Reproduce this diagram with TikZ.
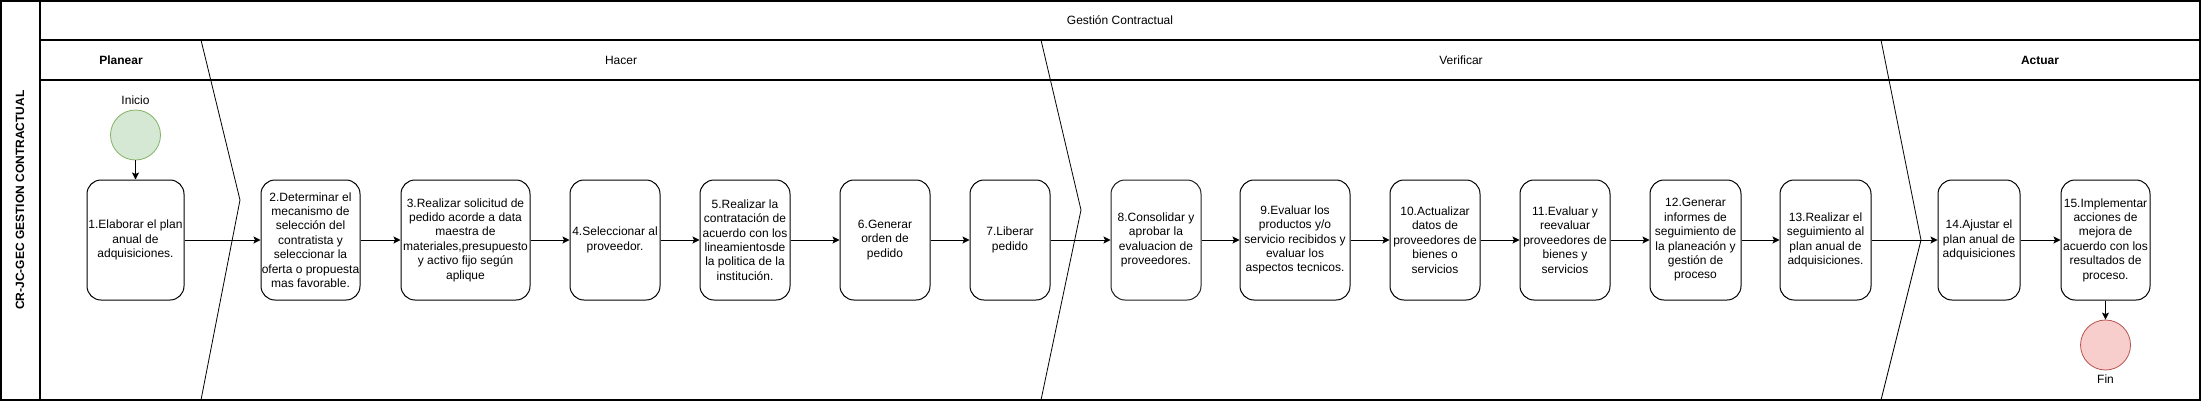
\documentclass[tikz,border=0pt]{standalone}
\usepackage{fontspec}
\setmainfont{Liberation Sans}
\usetikzlibrary{arrows.meta}
\definecolor{inifill}{HTML}{D5E8D4}
\definecolor{inidraw}{HTML}{82B366}
\definecolor{finfill}{HTML}{F8CECC}
\definecolor{findraw}{HTML}{B85450}
\begin{document}
\begin{tikzpicture}[x=1pt,y=-1pt,
  every node/.style={font=\fontsize{12}{14.4}\selectfont, inner sep=0pt},
  task/.style={draw, line width=1pt, rounded corners=14pt, align=center, minimum height=120pt},
  lane/.style={line width=1.3pt},
  divider/.style={line width=0.8pt},
  flow/.style={line width=1pt, -{Stealth[length=7pt,width=7pt,inset=1.5pt]}},
  phase/.style={font=\fontsize{12}{14.4}\selectfont},
]
\useasboundingbox (0,0) rectangle (2202,402);
% pool frame
\draw[lane] (1,1) rectangle (2200,400);
\draw[lane] (40,1) -- (40,400);
\draw[lane] (40,40) -- (2200,40);
\draw[lane] (40,80) -- (2200,80);
% phase dividers
\draw[divider] (201,40) -- (240,200) -- (201,400);
\draw[divider] (1041,40) -- (1081,210) -- (1041,400);
\draw[divider] (1881,40) -- (1921,240) -- (1881,400);
% headers
\node[rotate=90, font=\bfseries\fontsize{12}{14.4}\selectfont] (pool) at (20,200) {CR-JC-GEC GESTION CONTRACTUAL};
\node (title) at (1120,20) {Gestión Contractual};
\node[phase, font=\bfseries\fontsize{12}{14.4}\selectfont] (planear) at (121,60) {Planear};
\node[phase] (hacer) at (621,60) {Hacer};
\node[phase] (verificar) at (1461,60) {Verificar};
\node[phase, font=\bfseries\fontsize{12}{14.4}\selectfont] (actuar) at (2040,60) {Actuar};
% start / end
\node[circle, draw=inidraw, fill=inifill, line width=0.8pt, minimum size=50pt] (ini) at (135.5,135) {};
\node (inilbl) at (135.5,100) {Inicio};
\node[circle, draw=findraw, fill=finfill, line width=0.8pt, minimum size=50pt] (fin) at (2105.5,345) {};
\node (finlbl) at (2105.5,379) {Fin};
% tasks
\node[task, minimum width=97pt] (b1) at (135.5,240) {1.Elaborar el plan\\anual de\\adquisiciones.};
\node[task, minimum width=99pt] (b2) at (310.5,240) {2.Determinar el\\mecanismo de\\selección del\\contratista y\\seleccionar la\\oferta o propuesta\\mas favorable.};
\node[task, minimum width=129pt] (b3) at (465.5,240) {3.Realizar solicitud de\\pedido acorde a data\\maestra de\\materiales,presupuesto\\y activo fijo según\\aplique};
\node[task, minimum width=90pt] (b4) at (615,240) {4.Seleccionar al\\proveedor.};
\node[task, minimum width=90pt] (b5) at (745,240) {5.Realizar la\\contratación de\\acuerdo con los\\lineamientosde\\la politica de la\\institución.};
\node[task, minimum width=90pt] (b6) at (885,240) {6.Generar\\orden de\\pedido};
\node[task, minimum width=80pt] (b7) at (1010,240) {7.Liberar\\pedido};
\node[task, minimum width=90pt, draw=black!88] (b8) at (1156,240) {8.Consolidar y\\aprobar la\\evaluacion de\\proveedores.};
\node[task, minimum width=110pt] (b9) at (1295,240) {9.Evaluar los\\productos y/o\\servicio recibidos y\\evaluar los\\aspectos tecnicos.};
\node[task, minimum width=90pt] (b10) at (1435,240) {10.Actualizar\\datos de\\proveedores de\\bienes o\\servicios};
\node[task, minimum width=90pt] (b11) at (1565,240) {11.Evaluar y\\reevaluar\\proveedores de\\bienes y\\servicios};
\node[task, minimum width=91pt] (b12) at (1695.5,240) {12.Generar\\informes de\\seguimiento de\\la planeación y\\gestión de\\proceso};
\node[task, minimum width=91pt] (b13) at (1825.5,240) {13.Realizar el\\seguimiento al\\plan anual de\\adquisiciones.};
\node[task, minimum width=82pt] (b14) at (1979,240) {14.Ajustar el\\plan anual de\\adquisiciones};
\node[task, minimum width=89pt] (b15) at (2105.5,240) {15.Implementar\\acciones de\\mejora de\\acuerdo con los\\resultados de\\proceso.};
% flows
\draw[flow] (ini) -- (b1);
\draw[flow] (b1) -- (b2);
\draw[flow] (b2) -- (b3);
\draw[flow] (b3) -- (b4);
\draw[flow] (b4) -- (b5);
\draw[flow] (b5) -- (b6);
\draw[flow] (b6) -- (b7);
\draw[flow] (b7) -- (b8);
\draw[flow] (b8) -- (b9);
\draw[flow] (b9) -- (b10);
\draw[flow] (b10) -- (b11);
\draw[flow] (b11) -- (b12);
\draw[flow] (b12) -- (b13);
\draw[flow] (b13) -- (b14);
\draw[flow] (b14) -- (b15);
\draw[flow] (b15) -- (fin);
\end{tikzpicture}
\end{document}
